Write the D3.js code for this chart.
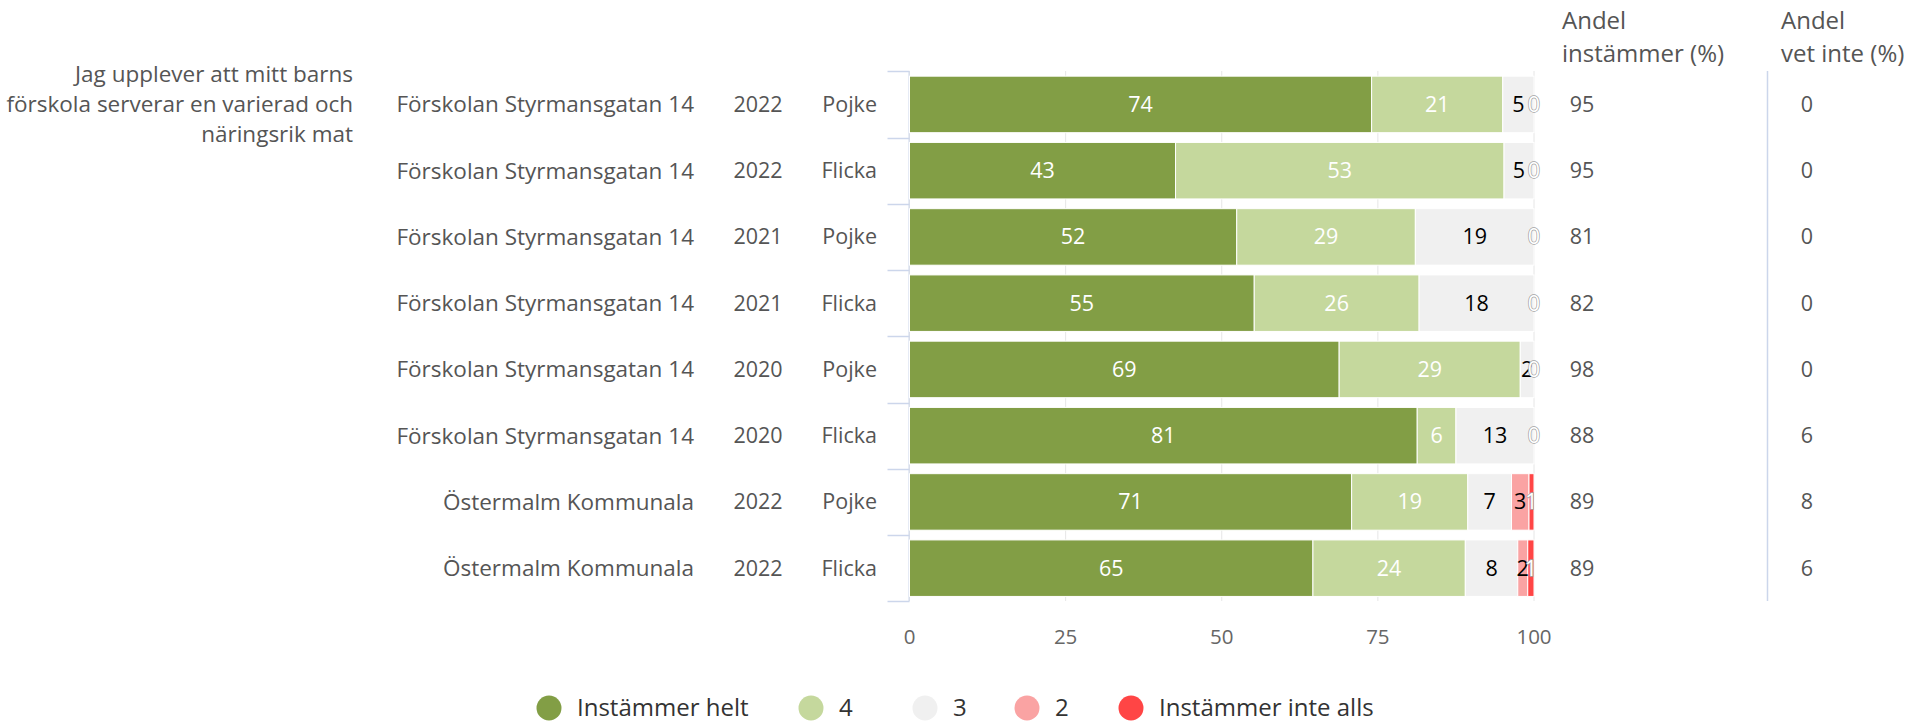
<!DOCTYPE html>
<html>
<head>
<meta charset="utf-8">
<script src="https://cdn.jsdelivr.net/npm/d3@7"></script>
<style>
  html, body { margin: 0; padding: 0; background: #fff; }
  svg { display: block; font-family: "Open Sans", Lato, sans-serif; }
</style>
</head>
<body>
<svg id="chart" width="1927" height="722"></svg>
<script>
// ---------- DATA ----------
const question = ["Jag upplever att mitt barns", "förskola serverar en varierad och", "näringsrik mat"];
const units   = ["Förskolan Styrmansgatan 14", "Förskolan Styrmansgatan 14", "Förskolan Styrmansgatan 14", "Förskolan Styrmansgatan 14", "Förskolan Styrmansgatan 14", "Förskolan Styrmansgatan 14", "Östermalm Kommunala", "Östermalm Kommunala"];
const years   = ["2022", "2022", "2021", "2021", "2020", "2020", "2022", "2022"];
const genders = ["Pojke", "Flicka", "Pojke", "Flicka", "Pojke", "Flicka", "Pojke", "Flicka"];
const seriesNames = ["Instämmer helt", "4", "3", "2", "Instämmer inte alls"];
const s5 = [74.0, 42.6, 52.4, 55.2, 68.8, 81.3, 70.8, 64.6];
const s4 = [21.0, 52.6, 28.6, 26.4, 29.0, 6.2, 18.6, 24.4];
const s3 = [5.0, 4.8, 19.0, 18.4, 2.2, 12.5, 7.0, 8.4];
const s2 = [0, 0, 0, 0, 0, 0, 2.8, 1.6];
const s1 = [0, 0, 0, 0, 0, 0, 0.8, 1.0];
const andelInstammer = [95, 95, 81, 82, 98, 88, 89, 89];
const andelVetInte   = [0, 0, 0, 0, 0, 6, 8, 6];
const xTicks = [0, 25, 50, 75, 100];
const colHeaders = [["Andel", "instämmer (%)"], ["Andel", "vet inte (%)"]];

// ---------- STYLE ----------
const colors = ["#829e45", "#c5d89d", "#f0f0f0", "#faa3a3", "#ff4545"];
const labelFill = ["#ffffff", "#ffffff", "#000000", "#000000", "#ffffff"];
const FS = 21.5;
const FS_LONG = 22.5;

const svg = d3.select("#chart");
const rows = d3.range(units.length);

const x = d3.scaleLinear().domain([0, 100]).range([909.5, 1534]);
const y = d3.scaleBand().domain(rows).range([71.3, 601.3]).paddingInner(0.147).paddingOuter(0.0735);
const yOuter = d3.scaleBand().domain(rows).range([71.3, 601.3]);

// gridlines
svg.append("g").selectAll("line").data(xTicks).join("line")
  .attr("x1", d => x(d)).attr("x2", d => x(d))
  .attr("y1", 71).attr("y2", 601)
  .attr("stroke", "#e6e6e6").attr("stroke-width", 1);

// category axis (left bracket)
const axisG = svg.append("g");
axisG.append("line").attr("x1", x(0) - 0.5).attr("x2", x(0) - 0.5)
  .attr("y1", 71.3).attr("y2", 601.3).attr("stroke", "#ccd6eb");
axisG.selectAll("line.tick").data(d3.range(units.length + 1)).join("line")
  .attr("class", "tick")
  .attr("x1", x(0) - 22).attr("x2", x(0))
  .attr("y1", i => Math.round(71.3 + i * yOuter.step()) + 0.5)
  .attr("y2", i => Math.round(71.3 + i * yOuter.step()) + 0.5)
  .attr("stroke", "#ccd6eb").attr("stroke-width", 1.5);

// stacked bars
const table = rows.map(i => ({ i, v0: s5[i], v1: s4[i], v2: s3[i], v3: s2[i], v4: s1[i] }));
const stack = d3.stack().keys(["v0", "v1", "v2", "v3", "v4"]);
const stacked = stack(table);

const barG = svg.append("g");
stacked.forEach((layer, k) => {
  barG.append("g").selectAll("rect").data(layer).join("rect")
    .attr("x", d => x(d[0]))
    .attr("y", d => y(d.data.i))
    .attr("width", d => Math.max(0, x(d[1]) - x(d[0])))
    .attr("height", y.bandwidth())
    .attr("fill", colors[k])
    .attr("stroke", "#ffffff").attr("stroke-width", 1);
});

// data labels
const labG = svg.append("g").attr("font-size", FS).attr("text-anchor", "middle");
stacked.forEach((layer, k) => {
  const data = layer.filter(d => !(k === 3 && d[1] - d[0] === 0));
  labG.append("g").selectAll("text").data(data).join("text")
    .attr("x", d => x((d[0] + d[1]) / 2))
    .attr("y", d => y(d.data.i) + y.bandwidth() / 2)
    .attr("dy", "0.35em")
    .attr("fill", labelFill[k])
    .attr("stroke", k === 4 ? "#a0a0a0" : "none")
    .attr("stroke-width", k === 4 ? 1.4 : 0)
    .attr("paint-order", "stroke")
    .text(d => Math.round(d[1] - d[0]));
});

// x axis tick labels
svg.append("g").selectAll("text").data(xTicks).join("text")
  .attr("x", d => x(d)).attr("y", 637).attr("dy", "0.35em")
  .attr("text-anchor", "middle").attr("font-size", 20.5).attr("fill", "#666")
  .text(d => d);

// row labels
const rowG = svg.append("g").attr("font-size", FS).attr("fill", "#555");
rowG.selectAll("text.unit").data(rows).join("text").attr("class", "unit")
  .attr("x", 694).attr("y", i => yOuter(i) + yOuter.bandwidth() / 2).attr("dy", "0.35em")
  .attr("font-size", FS_LONG)
  .attr("text-anchor", "end").text(i => units[i]);
rowG.selectAll("text.year").data(rows).join("text").attr("class", "year")
  .attr("x", 758).attr("y", i => yOuter(i) + yOuter.bandwidth() / 2).attr("dy", "0.35em")
  .attr("text-anchor", "middle").text(i => years[i]);
rowG.selectAll("text.gender").data(rows).join("text").attr("class", "gender")
  .attr("x", 877).attr("y", i => yOuter(i) + yOuter.bandwidth() / 2).attr("dy", "0.35em")
  .attr("text-anchor", "end").text(i => genders[i]);

// question text
const qy = yOuter(0) + yOuter.bandwidth() / 2;
svg.append("g").attr("font-size", FS_LONG).attr("fill", "#555").attr("text-anchor", "end")
  .selectAll("text").data(question).join("text")
  .attr("x", 353).attr("y", (d, j) => qy + (j - 1) * 30).attr("dy", "0.35em")
  .text(d => d);

// right columns
const colX = [1562, 1781];
colHeaders.forEach((lines, c) => {
  svg.append("g").attr("font-size", 24).attr("fill", "#555")
    .selectAll("text").data(lines).join("text")
    .attr("x", colX[c]).attr("y", (d, j) => 21 + j * 33).attr("dy", "0.35em")
    .text(d => d);
});
svg.append("g").attr("font-size", FS).attr("fill", "#555").attr("text-anchor", "middle")
  .selectAll("text").data(rows).join("text")
  .attr("x", 1582).attr("y", i => yOuter(i) + yOuter.bandwidth() / 2).attr("dy", "0.35em")
  .text(i => andelInstammer[i]);
svg.append("g").attr("font-size", FS).attr("fill", "#555").attr("text-anchor", "middle")
  .selectAll("text").data(rows).join("text")
  .attr("x", 1807).attr("y", i => yOuter(i) + yOuter.bandwidth() / 2).attr("dy", "0.35em")
  .text(i => andelVetInte[i]);
svg.append("line").attr("x1", 1767.5).attr("x2", 1767.5).attr("y1", 71).attr("y2", 601)
  .attr("stroke", "#ccd6eb").attr("stroke-width", 1.5);

// legend
const legX = [549, 811, 925, 1027, 1131];
const legG = svg.append("g");
seriesNames.forEach((name, k) => {
  const g = legG.append("g").attr("transform", `translate(${legX[k]},708)`);
  g.append("circle").attr("r", 12.5).attr("fill", colors[k]);
  g.append("text").attr("x", 28).attr("dy", "0.35em").attr("font-size", 24)
    .attr("fill", "#333").text(name);
});
</script>
</body>
</html>
